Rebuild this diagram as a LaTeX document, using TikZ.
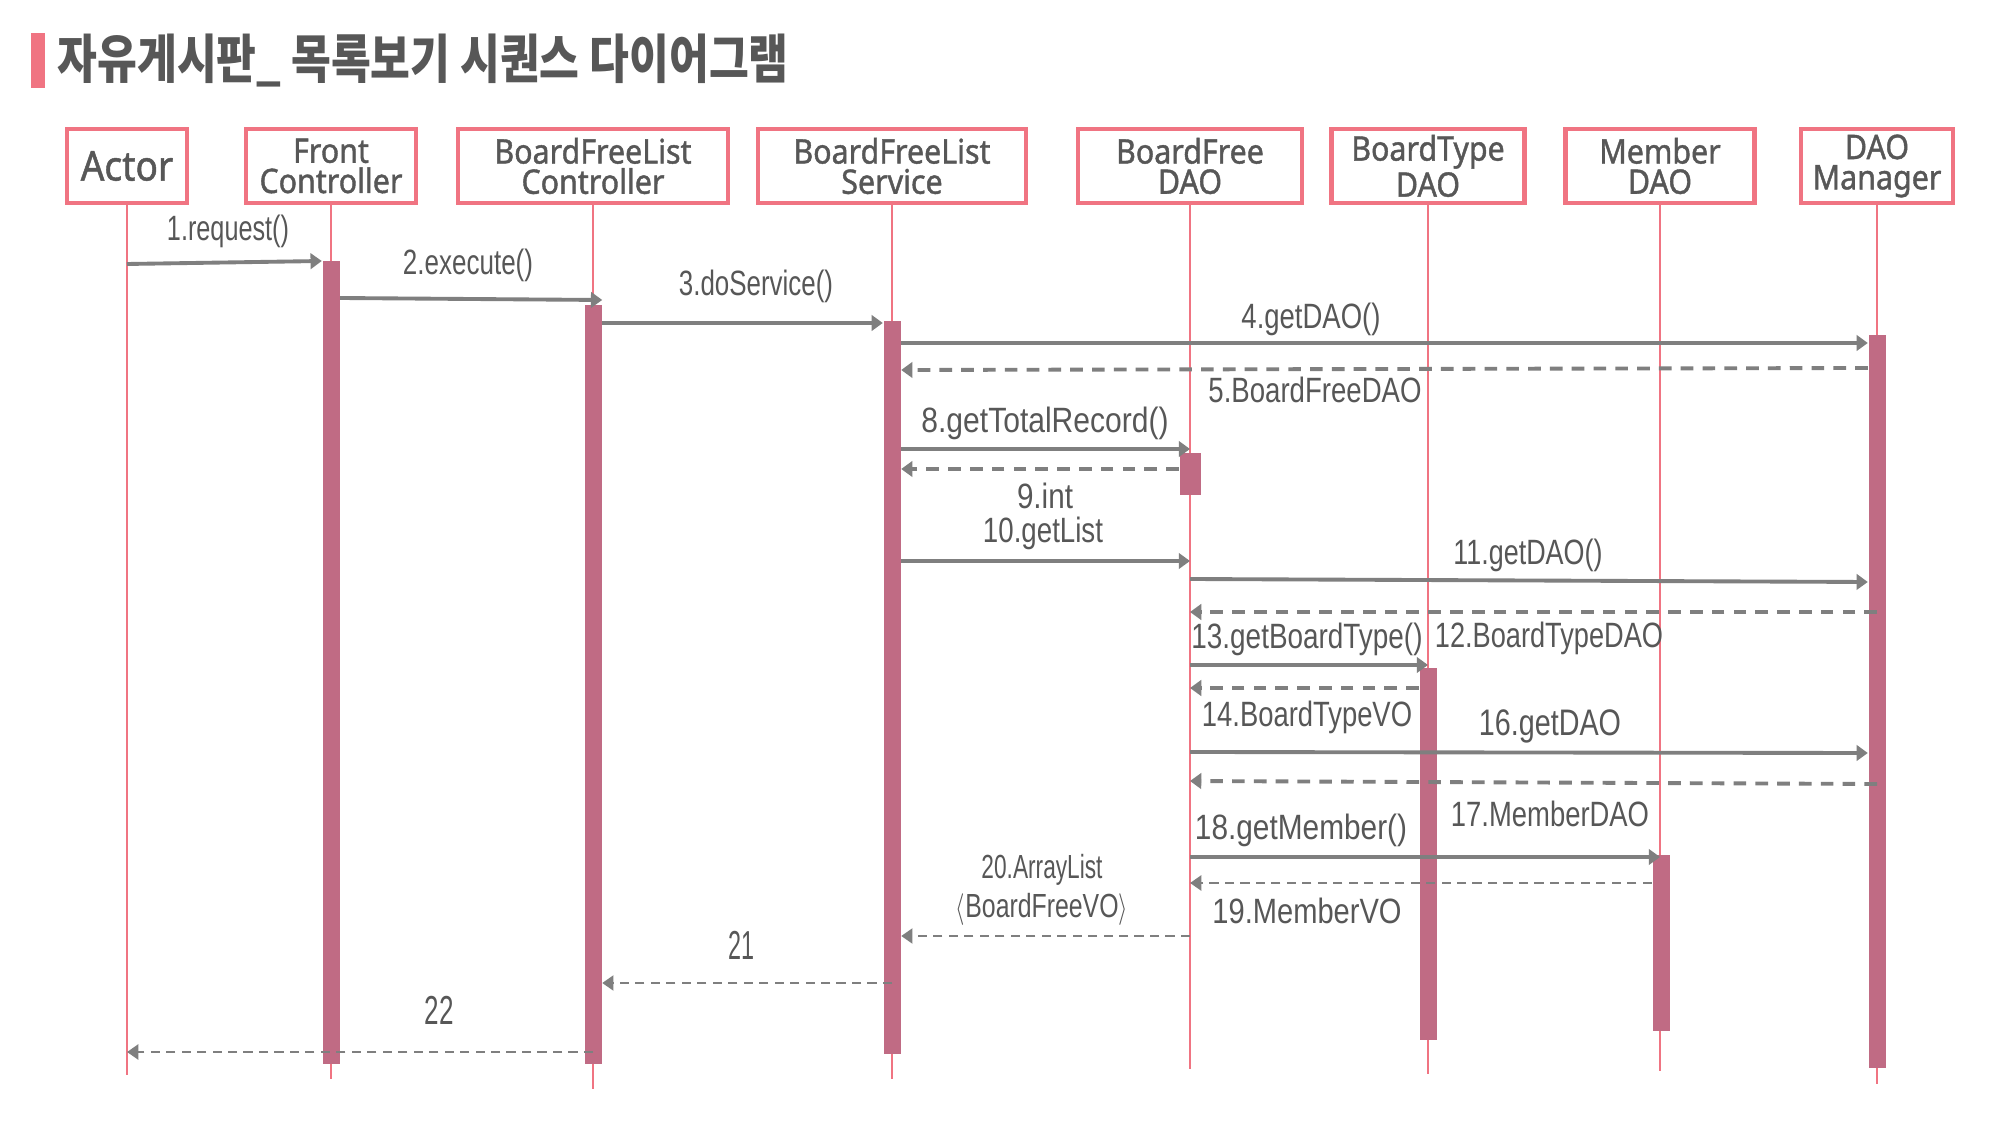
\documentclass[tikz,border=0pt]{standalone}
\usepackage{graphicx}
\usepackage{fontspec}
\setmainfont{Liberation Sans}
\newfontfamily\titlefont[FakeStretch=0.82]{Noto Sans CJK KR}
\newfontfamily\boxfont[FakeStretch=0.9,FakeBold=1.2]{Noto Sans}
\usetikzlibrary{arrows.meta,fit}
\definecolor{rosered}{HTML}{F07482}
\definecolor{barmauve}{HTML}{C06B84}
\definecolor{arrowgray}{HTML}{7F7F7F}
\definecolor{textgray}{HTML}{575757}
\begin{document}
\begin{tikzpicture}[x=0.01cm, y=-0.01cm,
    hdr/.style={draw=rosered, line width=1.2pt, fill=white, minimum height=0.74cm, inner sep=0pt,
      align=center, text=textgray, font=\boxfont\fontsize{9.6}{8.6}\selectfont},
    life/.style={rosered, line width=0.6pt},
    actbar/.style={fill=barmauve, draw=none, inner sep=0pt},
    call/.style={arrowgray, line width=1.1pt, -{Triangle[length=3.2pt,width=4.4pt]}},
    reply/.style={arrowgray, line width=1.1pt, dash pattern=on 3.6pt off 2.6pt, -{Triangle[length=3.2pt,width=4.4pt]}},
    thinreply/.style={arrowgray, line width=0.85pt, dash pattern=on 2.6pt off 1.8pt, -{Triangle[length=3.2pt,width=4.2pt]}},
    lbl/.style={text=textgray, inner sep=0pt, align=center, font=\fontsize{10}{11}\selectfont}]

    \fill[white] (0,0) rectangle (2000,1125);
    \useasboundingbox (0,0) rectangle (2000,1125);

    \newcommand\msgw{}
    \def\msgw#1#2{\resizebox{#1mm}{\height}{#2}}

    \fill[rosered] (31,33) rectangle (45,88);
    \node[anchor=west, inner sep=0pt, text=textgray, font=\titlefont\bfseries\fontsize{15}{18}\selectfont] (title) at (57,61)
      {자유게시판\_ 목록보기 시퀀스 다이어그램};

    \node[hdr, minimum width=1.2cm, font=\boxfont\fontsize{11.7}{12}\selectfont] (actor) at (127,166) {Actor};
    \node[hdr, minimum width=1.7cm] (front) at (331,166) {Front\\Controller};
    \node[hdr, minimum width=2.7cm] (listctrl) at (593,166) {BoardFreeList\\Controller};
    \node[hdr, minimum width=2.68cm] (listsvc) at (892,166) {BoardFreeList\\Service};
    \node[hdr, minimum width=2.24cm] (freedao) at (1190,166) {BoardFree\\DAO};
    \node[hdr, minimum width=1.93cm] (typedao) at (1428,166) {BoardType\\DAO};
    \node[hdr, minimum width=1.89cm] (memberdao) at (1660,166) {Member\\DAO};
    \node[hdr, minimum width=1.52cm] (daomgr) at (1877,166) {DAO\\Manager};

    \foreach \n/\e in {actor/1075, front/1079, listctrl/1089, listsvc/1079,
                       freedao/1069, typedao/1074, memberdao/1071, daomgr/1084}
      \draw[life] (\n.south) -- (\n.south |- 0,\e);

    \node[actbar, fit={(322.5,261) (339.5,1064)}] (fcact) {};
    \node[actbar, fit={(584.5,305) (601.5,1064)}] (ctrlact) {};
    \node[actbar, fit={(883.5,321) (900.5,1054)}] (svcact) {};
    \node[actbar, fit={(1179.5,453) (1200.5,495)}] (freeact) {};
    \node[actbar, fit={(1419.5,668) (1436.5,1040)}] (typeact) {};
    \node[actbar, fit={(1652.5,855) (1669.5,1031)}] (memberact) {};
    \node[actbar, fit={(1868.5,335) (1885.5,1068)}] (mgract) {};

    \draw[call] (actor.south |- 0,264) -- (fcact.west |- 0,261);
    \draw[call] (fcact.east |- 0,298) -- (ctrlact.east |- 0,300);
    \draw[call] (ctrlact.east |- 0,323) -- (svcact.west |- 0,323);
    \draw[call] (svcact.east |- 0,343) -- (mgract.west |- 0,343);
    \draw[reply] (mgract.west |- 0,368) -- (svcact.east |- 0,370);
    \draw[call] (svcact.east |- 0,449) -- (freedao.south |- 0,449);
    \draw[reply] (freeact.west |- 0,469) -- (svcact.east |- 0,469);
    \draw[call] (svcact.east |- 0,561) -- (freedao.south |- 0,561);
    \draw[call] (freedao.south |- 0,579) -- (mgract.west |- 0,582);
    \draw[reply] (mgract.center |- 0,612) -- (freedao.south |- 0,612);
    \draw[call] (freedao.south |- 0,665) -- (typedao.south |- 0,665);
    \draw[reply] (typeact.west |- 0,688) -- (freedao.south |- 0,688);
    \draw[call] (freedao.south |- 0,752) -- (mgract.west |- 0,753);
    \draw[reply] (mgract.center |- 0,784) -- (freedao.south |- 0,781);
    \draw[call] (freedao.south |- 0,857) -- (memberdao.south |- 0,857);
    \draw[thinreply] (memberact.west |- 0,883) -- (freedao.south |- 0,883);
    \draw[thinreply] (freedao.south |- 0,936) -- (svcact.east |- 0,936);
    \draw[thinreply] (svcact.center |- 0,983) -- (ctrlact.east |- 0,983);
    \draw[thinreply] (ctrlact.center |- 0,1052) -- (actor.south |- 0,1052);

    \node[lbl] (t1) at (228,231) {\msgw{12.2}{1.request()}};
    \node[lbl] (t2) at (468,265) {\msgw{13.0}{2.execute()}};
    \node[lbl] (t3) at (756,286) {\msgw{15.4}{3.doService()}};
    \node[lbl] (t4) at (1311,319) {\msgw{13.9}{4.getDAO()}};
    \node[lbl] (t5) at (1315,390) {\msgw{21.3}{5.BoardFreeDAO}};
    \node[lbl] (t8) at (1045,423) {\msgw{24.7}{8.getTotalRecord()}};
    \node[lbl] (t9) at (1045,496) {\msgw{5.6}{9.int}};
    \node[lbl] (t10) at (1043,533) {\msgw{12.0}{10.getList}};
    \node[lbl] (t11) at (1528,555) {\msgw{14.9}{11.getDAO()}};
    \node[lbl] (t12) at (1549,638) {\msgw{22.8}{12.BoardTypeDAO}};
    \node[lbl] (t13) at (1307,639) {\msgw{23.1}{13.getBoardType()}};
    \node[lbl] (t14) at (1307,717) {\msgw{21.0}{14.BoardTypeVO}};
    \node[lbl, font=\fontsize{10.5}{12}\selectfont] (t16) at (1550,726) {\msgw{14.2}{16.getDAO}};
    \node[lbl] (t17) at (1550,814) {\msgw{19.8}{17.MemberDAO}};
    \node[lbl] (t18) at (1301,830) {\msgw{21.2}{18.getMember()}};
    \node[lbl] (t19) at (1307,911) {\msgw{18.9}{19.MemberVO}};
    \node[lbl, font=\fontsize{9.5}{11}\selectfont] (t20) at (1042,890)
      {\msgw{12.1}{20.ArrayList}\\\msgw{17.2}{$\langle$BoardFreeVO$\rangle$}};
    \node[lbl, font=\fontsize{11.5}{12}\selectfont] (t21) at (741,945) {\msgw{2.6}{21}};
    \node[lbl, font=\fontsize{11.5}{12}\selectfont] (t22) at (439,1010) {\msgw{2.9}{22}};

\end{tikzpicture}
\end{document}
